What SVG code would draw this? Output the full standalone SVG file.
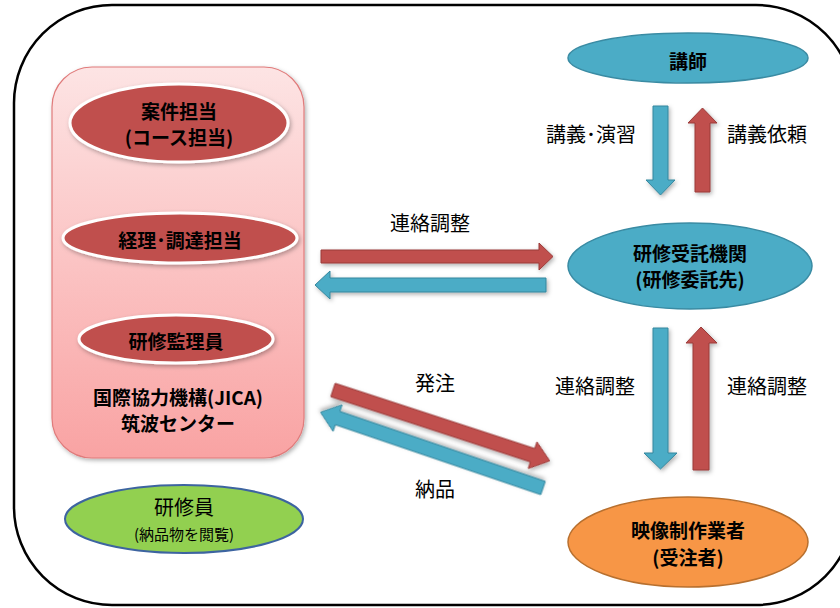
<svg xmlns="http://www.w3.org/2000/svg" width="840" height="608" viewBox="0 0 840 608">
<defs>
<linearGradient id="pinkGrad" x1="0" y1="0" x2="0" y2="1">
<stop offset="0" stop-color="#fde4e4"/>
<stop offset="1" stop-color="#f9a3a3"/>
</linearGradient>
<filter id="shadow" x="-10%" y="-10%" width="130%" height="130%">
<feDropShadow dx="1.5" dy="2" stdDeviation="2" flood-color="#000" flood-opacity="0.3"/>
</filter>
<style>
.frame{fill:#fff;stroke:#000;stroke-width:2.5}
.jica{fill:url(#pinkGrad);stroke:#e07b7b;stroke-width:1.2}
.role{fill:#c0504d;stroke:#fff;stroke-width:3}
.blue{fill:#4bacc6;stroke:#3a8ba3;stroke-width:1.5}
.orange{fill:#f79646;stroke:#b8702f;stroke-width:1.5}
.green{fill:#92d050;stroke:#3d64a0;stroke-width:2}
.ar{fill:#c0504d;stroke:#9a3a38;stroke-width:1}
.ab{fill:#4bacc6;stroke:#35869d;stroke-width:1}
text{font-family:"Noto Sans CJK JP","Noto Sans",sans-serif;fill:#000;text-anchor:middle;dominant-baseline:central}
.nt{font-size:19px;font-weight:bold}
.lb{font-size:20px}
.sm{font-size:15px}
</style>
</defs>
<rect class="frame" x="14" y="5" width="840" height="600" rx="98" ry="98"/>

<g id="jica">
<rect class="jica" x="52" y="67" width="252" height="391" rx="40" ry="40" filter="url(#shadow)"/>
<text class="nt" x="178" y="396">国際協力機構(JICA)</text>
<text class="nt" x="178" y="422">筑波センター</text>
</g>
<g id="anken">
<ellipse class="role" cx="179" cy="123" rx="109" ry="39" filter="url(#shadow)"/>
<text class="nt" x="179" y="110">案件担当</text>
<text class="nt" x="179" y="136">(コース担当)</text>
</g>
<g id="keiri">
<ellipse class="role" cx="180" cy="238" rx="117" ry="25" filter="url(#shadow)"/>
<text class="nt" x="180" y="239">経理･調達担当</text>
</g>
<g id="kanri">
<ellipse class="role" cx="176" cy="339" rx="97" ry="24" filter="url(#shadow)"/>
<text class="nt" x="176" y="340">研修監理員</text>
</g>
<g id="kenshuin">
<ellipse class="green" cx="184" cy="519" rx="119" ry="34"/>
<text x="184" y="506" style="font-size:20px">研修員</text>
<text class="sm" x="184" y="533">(納品物を閲覧)</text>
</g>
<g id="koshi">
<ellipse class="blue" cx="688" cy="58" rx="120" ry="25"/>
<text class="nt" x="688" y="60">講師</text>
</g>
<g id="jutaku">
<ellipse class="blue" cx="690" cy="266" rx="122" ry="43"/>
<text class="nt" x="690" y="252">研修受託機関</text>
<text class="nt" x="690" y="278">(研修委託先)</text>
</g>
<g id="eizo">
<ellipse class="orange" cx="688" cy="542" rx="120" ry="45"/>
<text class="nt" x="688" y="529">映像制作業者</text>
<text class="nt" x="688" y="556">(受注者)</text>
</g>

<g id="connectors">
<polygon class="ab" points="653,106 668,106 668,180 675,180 660.5,195 646,180 653,180" filter="url(#shadow)"/>
<polygon class="ar" points="695,192 710,192 710,123 717,123 702.5,108 688,123 695,123" filter="url(#shadow)"/>
<polygon class="ab" points="653,328 668,328 668,453 677,453 660.5,469 644,453 653,453" filter="url(#shadow)"/>
<polygon class="ar" points="693,470 709,470 709,343 717,343 701,327 686,343 693,343" filter="url(#shadow)"/>
<polygon class="ar" points="321,250 539,250 539,243 553,256.5 539,270 539,263 321,263" filter="url(#shadow)"/>
<polygon class="ab" points="546,278 330,278 330,271 315,285 330,299 330,292 546,292" filter="url(#shadow)"/>
<polygon class="ar" transform="translate(333,390) rotate(18.1)" points="0,-7 210,-7 210,-14 228,0 210,14 210,7 0,7" filter="url(#shadow)"/>
<polygon class="ab" transform="translate(543,488) rotate(198.8)" points="0,-7 217,-7 217,-14 235,0 217,14 217,7 0,7" filter="url(#shadow)"/>
</g>

<g id="labels">
<text class="lb" x="591" y="133">講義･演習</text>
<text class="lb" x="767" y="133">講義依頼</text>
<text class="lb" x="430" y="222">連絡調整</text>
<text class="lb" x="595" y="385">連絡調整</text>
<text class="lb" x="767" y="385">連絡調整</text>
<text class="lb" x="435" y="382">発注</text>
<text class="lb" x="435" y="488">納品</text>
</g>
</svg>
